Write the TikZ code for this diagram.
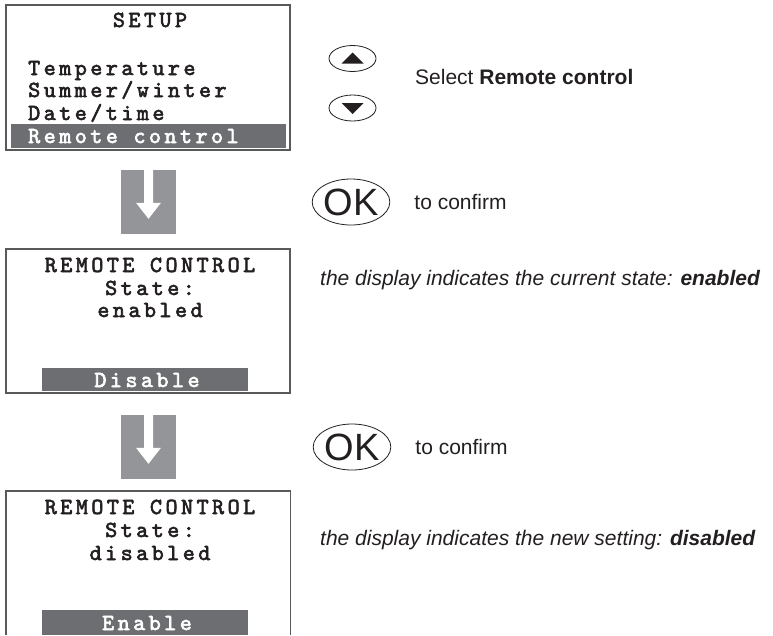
\documentclass[tikz,border=0pt]{standalone}
\usepackage{fontspec}
\setmainfont{Liberation Sans}
\newfontfamily\lcdfont{lmmono10-regular.otf}[LetterSpace=15,FakeBold=2.6]
\usetikzlibrary{positioning,shapes.geometric}
\definecolor{cFrame}{HTML}{58595B}
\definecolor{cBar}{HTML}{6D6E71}
\definecolor{cArrow}{HTML}{939598}
\definecolor{cInk}{HTML}{231F20}
\tikzset{
  screen/.style ={draw=cFrame, line width=1.4pt, inner sep=0pt},
  lcd/.style    ={font=\lcdfont\fontsize{23}{26}\selectfont, text=cInk,
                  inner sep=0pt, anchor=base},
  bar/.style    ={fill=cBar, inner sep=0pt},
  block/.style  ={fill=cArrow, inner sep=0pt, minimum width=55pt, minimum height=64pt},
  okbtn/.style  ={ellipse, draw=cInk, line width=0.8pt, inner sep=0pt,
                  minimum width=76pt, minimum height=46pt,
                  font=\fontsize{38}{38}\selectfont, text=cInk},
  arrbtn/.style ={ellipse, draw=cInk, line width=0.8pt, inner sep=0pt,
                  minimum width=47pt, minimum height=26pt},
  note/.style   ={font=\fontsize{21}{24}\selectfont, text=cInk, inner sep=0pt},
}
\begin{document}
\begin{tikzpicture}[x=1pt, y=-1pt]
\useasboundingbox (0,0) rectangle (773,635);

% screen 1: setup menu
\node[screen, minimum width=284pt, minimum height=145pt] (scr1) at (148,77.5) {};
\node[bar, minimum width=275pt, minimum height=24pt] (bar1) at (148.5,136) {};
\node[lcd] (setup) at (150,27) {SETUP};
\node[lcd, anchor=base west] (m1) at (28,75) {Temperature};
\node[lcd, anchor=base west] (m2) at (28,97) {Summer/winter};
\node[lcd, anchor=base west] (m3) at (28,120) {Date/time};
\node[lcd, anchor=base west, text=white] (m4) at (28,143) {Remote control};

% screen 2: state enabled
\node[screen, minimum width=284pt, minimum height=144pt] (scr2) at (148,321) {};
\node[bar, minimum width=206pt, minimum height=23pt] (bar2) at (145,379.5) {};
\node[lcd] (t2a) at (150,272) {REMOTE CONTROL};
\node[lcd] (t2b) at (150,295) {State:};
\node[lcd] (t2c) at (150,317) {enabled};
\node[lcd, text=white] (t2d) at (147,387) {Disable};

% screen 3: state disabled (cut at the bottom)
\node[inner sep=0pt, minimum width=284pt, minimum height=144pt] (scr3) at (148,563) {};
\draw[cFrame, line width=1.4pt] (scr3.south west) |- (scr3.north east) -- (scr3.south east);
\node[bar, minimum width=206pt, minimum height=25pt] (bar3) at (145,622.5) {};
\node[lcd] (t3a) at (150,514) {REMOTE CONTROL};
\node[lcd] (t3b) at (150,537) {State:};
\node[lcd] (t3c) at (150,560) {disabled};
\node[lcd, text=white] (t3d) at (147,630) {Enable};

% grey step arrows
\foreach \i/\y in {1/202, 2/447} {
  \node[block] (blk\i) at (148.5,\y) {};
  \fill[white, shift={(blk\i.north)}] (-4.5,0) -- (4.5,0) -- (4.5,33) -- (12.5,33)
    -- (0,49) -- (-12.5,33) -- (-4.5,33) -- cycle;
}

% keys
\node[arrbtn] (up) at (352.5,58.5) {};
\node[arrbtn] (down) at (352.5,108) {};
\fill[cInk, shift={(up.center)}] (-11,5) -- (11,5) -- (0,-6) -- cycle;
\fill[cInk, shift={(down.center)}] (-11,-5) -- (11,-5) -- (0,6) -- cycle;
\node[okbtn] (ok1) at (351,202) {OK};
\node[okbtn] (ok2) at (352,447) {OK};

% notes
\node[note, anchor=base west] (sel) at (415,84) {Select \textbf{Remote control}};
\node[note, right=24pt of ok1] (conf1) {to confirm};
\node[note, right=24pt of ok2] (conf2) {to confirm};
\node[note, anchor=base west] (cur) at (320,285)
  {\itshape the display indicates the current state: \textbf{enabled}};
\node[note, anchor=base west] (new) at (320,545)
  {\itshape the display indicates the new setting: \textbf{disabled}};
\end{tikzpicture}
\end{document}
